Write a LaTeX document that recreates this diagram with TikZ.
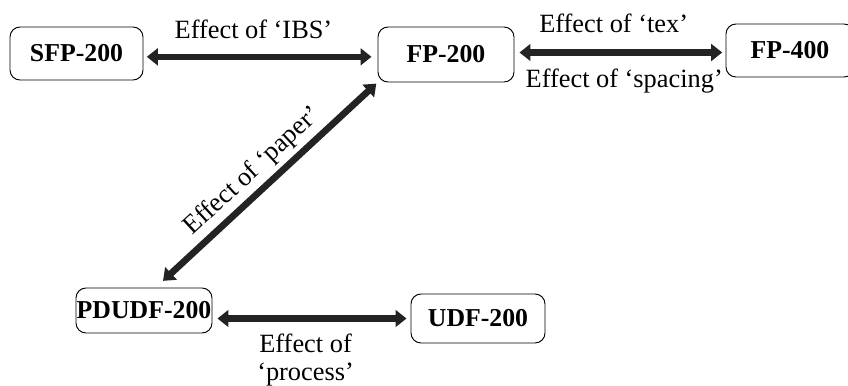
\documentclass[tikz,border=0pt]{standalone}
\usepackage{fontspec}
\setmainfont{Liberation Serif}
\usetikzlibrary{arrows.meta}
\definecolor{arrowgray}{RGB}{35,35,35}

\begin{document}
\begin{tikzpicture}[x=0.3mm, y=-0.3mm, main/.style = {draw, rounded corners=3mm, line width=0.8pt, inner sep=0pt, font=\fontsize{22}{26}\selectfont\bfseries}, link/.style = {{Triangle[length=3.3mm,width=5mm]}-{Triangle[length=3.3mm,width=5mm]}, line width=2mm, draw=arrowgray}, lbl/.style = {inner sep=0pt, font=\fontsize{22.5}{24}\selectfont, text=black}]
\clip (0,0) rectangle (848,386);
\node[main, minimum width=39.9mm, minimum height=15.9mm] (1) at (76.5,53.5) {SFP-200};
\node[main, minimum width=40.8mm, minimum height=16.5mm] (2) at (446,54.5) {FP-200};
\node[main, minimum width=38.4mm, minimum height=15.9mm] (3) at (790,50.5) {FP-400};
\node[main, minimum width=40.8mm, minimum height=13.5mm] (4) at (144,310.5) {PDUDF-200};
\node[main, minimum width=40.2mm, minimum height=14.7mm] (5) at (478,318.5) {UDF-200};
\draw[link, shorten <=1mm, shorten >=1.8mm] ([yshift=-1mm]1.east) -- ([yshift=-1mm]1.east -| 2.west) node[lbl, pos=0.47, above=4.3mm] {Effect of `IBS'};
\draw[link, shorten <=1.5mm, shorten >=1mm] ([yshift=0.6mm]2.east) -- ([yshift=0.6mm]2.east -| 3.west) node[lbl, pos=0.47, above=4.8mm] {Effect of `tex'} node[lbl, pos=0.52, below=4mm] {Effect of `spacing'};
\draw[link, shorten >=0.5mm] ([xshift=5.7mm, yshift=2mm]4.north) -- (2.south west) node[lbl, pos=0.48, sloped, above=1.2mm] {Effect of `paper'};
\draw[link, shorten <=1.5mm, shorten >=1.2mm] (4.east |- 5.west) -- (5.west) node[lbl, pos=0.47, below=3.5mm, align=center] {Effect of\\`process'};
\end{tikzpicture}
\end{document}
